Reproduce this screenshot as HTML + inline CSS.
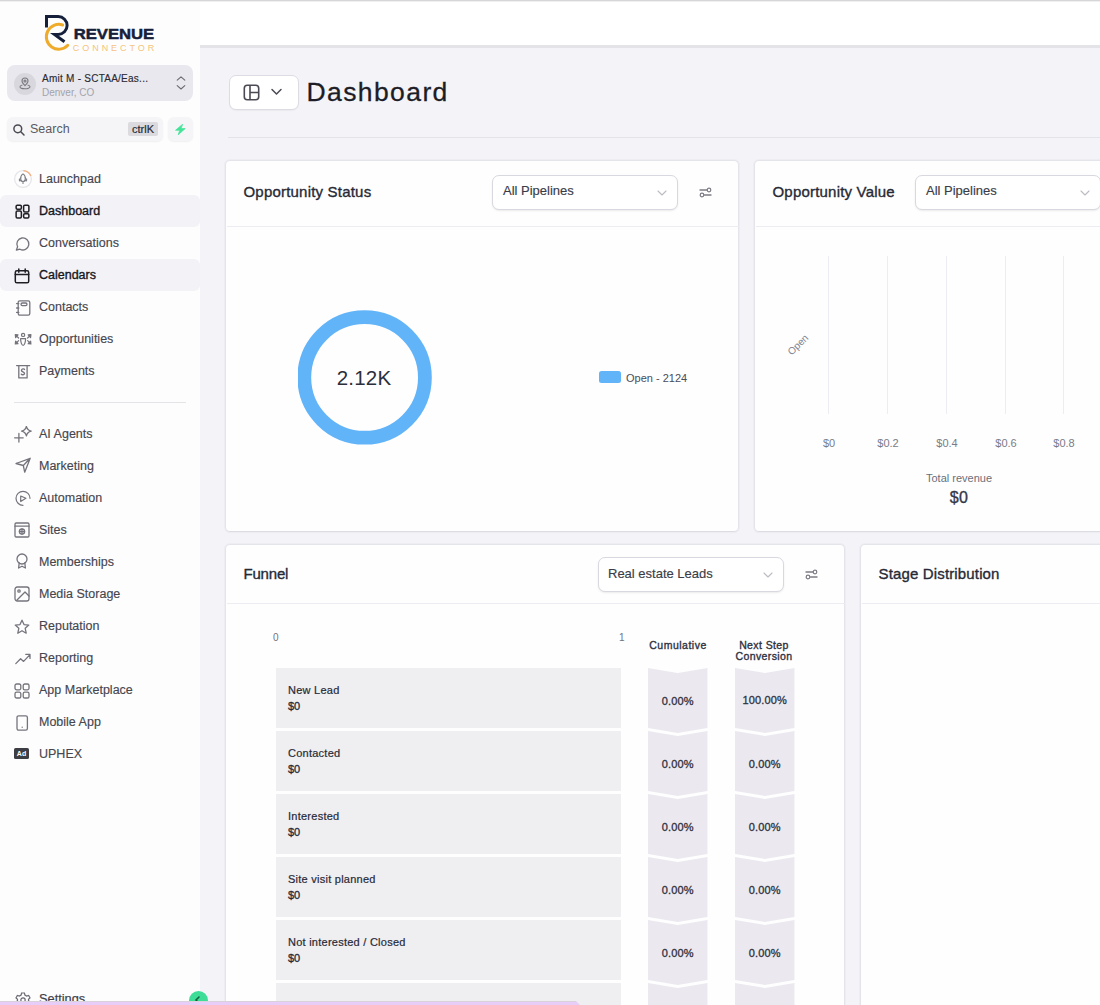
<!DOCTYPE html>
<html><head><meta charset="utf-8">
<style>
*{box-sizing:border-box;margin:0;padding:0}
html,body{width:1100px;height:1005px;overflow:hidden}
body{font-family:"Liberation Sans",sans-serif;background:#f3f3f8;position:relative;color:#1f2430}
.abs{position:absolute}
#topline{position:absolute;left:0;top:0;width:1100px;height:2px;background:linear-gradient(#c9c8cc,#fdfdfd);z-index:50}
#sidebar{position:absolute;left:0;top:0;width:200px;height:1005px;background:#fdfdfe}
#header{position:absolute;left:200px;top:0;width:900px;height:45px;background:#fff}
#headerline{position:absolute;left:200px;top:45px;width:900px;height:3px;background:#e4e3e8}
.nav{position:absolute;left:0;width:200px;height:32px}
.nav.active{background:#f2f2f7;border-radius:6px}
.nav .lbl{position:absolute;left:39px;top:10px;font-size:12.5px;color:#46464e;-webkit-text-stroke:0.15px #46464e;white-space:nowrap;line-height:14px}
.nav.active .lbl{color:#16161c;-webkit-text-stroke:0.35px #16161c}
.nav svg{position:absolute;left:14px;top:10px}
.card{position:absolute;background:#fefeff;border:1px solid #e4e4eb;border-bottom-color:#dcdce3;border-radius:5px;box-shadow:0 0 0 1px #ededf2,0 1px 1px rgba(0,0,0,0.05)}
.card .hd{position:absolute;left:0;top:0;right:0;height:65px;border-bottom:1px solid #ececf2}
.card .ttl{position:absolute;left:16.5px;top:22px;font-size:15px;color:#272a35;-webkit-text-stroke:0.35px #272a35;letter-spacing:0.2px;line-height:16px;white-space:nowrap}
.dd{position:absolute;height:35px;background:#fff;border:1px solid #d8d8e0;border-radius:7px;box-shadow:0 1px 2px rgba(0,0,0,0.08)}
.dd .t{position:absolute;left:10px;top:7px;font-size:13px;color:#3a3d48;-webkit-text-stroke:0.15px #3a3d48;line-height:15px;white-space:nowrap}
.dd svg{position:absolute;right:10.5px;top:14px}
.frow{width:345px;height:60px;background:#efeef1}
.frow .rn{position:absolute;left:12px;top:16px;font-size:11px;color:#272a36;-webkit-text-stroke:0.2px #272a36;letter-spacing:0.25px;line-height:13px;white-space:nowrap}
.frow .rv{position:absolute;left:12px;top:32px;font-size:11px;color:#272a36;-webkit-text-stroke:0.3px #272a36;line-height:13px}
.pct{width:59.5px;text-align:center;font-size:11px;color:#2e3140;-webkit-text-stroke:0.3px #2e3140;letter-spacing:0.15px;line-height:13px}
</style></head><body>
<div id="topline"></div>
<div id="sidebar">
<!-- logo -->
<svg class="abs" style="left:40px;top:10px" width="120" height="46" viewBox="0 0 120 46">
  <path d="M6.5 17.5 V6.6 H18.2 A8.9 8.9 0 0 1 18.2 24.4 H14.5 L24.5 31.8" fill="none" stroke="#16203a" stroke-width="3" stroke-linejoin="miter"/>
  <path d="M22.6 15 A12.4 12.4 0 1 0 27.8 35.3" fill="none" stroke="#eeab2c" stroke-width="3" stroke-linecap="round"/>
  <text x="33.7" y="28.7" font-family="Liberation Sans" font-weight="bold" font-size="15.5" fill="#16203a" stroke="#16203a" stroke-width="0.5" textLength="80.5" lengthAdjust="spacingAndGlyphs">REVENUE</text>
  <text x="32.8" y="40.7" font-family="Liberation Sans" font-size="9" fill="#f4c57c" textLength="81.5" lengthAdjust="spacing">CONNECTOR</text>
</svg>
<!-- account -->
<div class="abs" style="left:7px;top:65px;width:186px;height:36px;background:#e9e8ee;border-radius:8px"></div>
<div class="abs" style="left:14px;top:73px;width:22px;height:22px;border-radius:11px;background:#d8d7dd"></div>
<svg class="abs" style="left:19px;top:77px" width="12" height="13" viewBox="0 0 12 13" fill="none" stroke="#7a7a80" stroke-width="1.1"><path d="M6 8.6 C4 6.6 3 5.4 3 4 A3 3 0 0 1 9 4 C9 5.4 8 6.6 6 8.6 Z"/><circle cx="6" cy="4" r="1"/><path d="M3.4 8 C1.6 8.4 1 9.2 1 9.8 C1 11 3.2 11.8 6 11.8 C8.8 11.8 11 11 11 9.8 C11 9.2 10.4 8.4 8.6 8"/></svg>
<div class="abs" style="left:42px;top:73px;font-size:10px;color:#2a2a33;-webkit-text-stroke:0.15px #2a2a33;line-height:12px;white-space:nowrap;letter-spacing:0.25px">Amit M - SCTAA/Eas...</div>
<div class="abs" style="left:42px;top:87px;font-size:10px;color:#a3a3aa;line-height:12px;white-space:nowrap">Denver, CO</div>
<svg class="abs" style="left:176px;top:75px" width="10" height="16" viewBox="0 0 10 16" fill="none" stroke="#6a6a72" stroke-width="1.1" stroke-linecap="round" stroke-linejoin="round"><path d="M1.2 5.2 L5 1.8 L8.8 5.2 M1.2 10.6 L5 14 L8.8 10.6"/></svg>
<!-- search -->
<div class="abs" style="left:7px;top:117px;width:156px;height:24px;background:#f5f5f7;border-radius:6px;box-shadow:0 1px 2px rgba(0,0,0,0.06)"></div>
<svg class="abs" style="left:12px;top:123px" width="14" height="14" viewBox="0 0 14 14" fill="none" stroke="#4a4a52" stroke-width="1.5" stroke-linecap="round"><circle cx="5.8" cy="5.8" r="3.9"/><path d="M8.8 8.8 L12 12"/></svg>
<div class="abs" style="left:30px;top:122px;font-size:12.5px;color:#5a5a62;line-height:14px">Search</div>
<div class="abs" style="left:128px;top:122px;width:30px;height:14px;background:#dadadf;border-radius:2px;font-size:11px;color:#2a2a33;-webkit-text-stroke:0.2px #2a2a33;line-height:14px;text-align:center">ctrlK</div>
<div class="abs" style="left:168px;top:117px;width:25px;height:24px;background:#f5f5f7;border-radius:6px;box-shadow:0 1px 2px rgba(0,0,0,0.06)"></div>
<svg class="abs" style="left:175px;top:124px" width="11" height="11" viewBox="0 0 11 11"><path d="M7.6 0.3 L0.6 6.2 H4.8 L3.2 10.7 L10.2 4.6 H6 Z" fill="#45e39a" stroke="#45e39a" stroke-width="0.8" stroke-linejoin="round"/></svg>
<div class="nav" style="top:163px"><svg width="20" height="20" viewBox="0 0 20 20" fill="none" style="left:13px;top:6px"><circle cx="10" cy="10" r="8.4" stroke="#e6e6ea" stroke-width="1.3"/><path d="M10.4 1.6 A8.4 8.4 0 0 1 17.9 7.1" stroke="#f3b083" stroke-width="1.4"/><g stroke="#808088" stroke-width="1.15" stroke-linejoin="round" stroke-linecap="round"><path d="M10 4.9 C12 6 12.6 7.8 12.3 10.6 L11.2 12.4 H8.8 L7.7 10.6 C7.4 7.8 8 6 10 4.9 Z"/><path d="M7.8 8.8 L6.3 10.6 L6.6 12 L8.3 11.4 M12.2 8.8 L13.7 10.6 L13.4 12 L11.7 11.4 M10 13.4 V14.5"/></g></svg><div class="lbl" style="top:9px">Launchpad</div></div>
<div class="nav active" style="top:195px"><svg style="left:15px;top:8.5px" width="15" height="15" viewBox="0 0 16 16" fill="none" stroke="#1e1e24" stroke-width="1.6" stroke-linejoin="round"><rect x="1.2" y="1.2" width="5.6" height="4.4" rx="1.3"/><rect x="1.2" y="7.4" width="5.6" height="7.4" rx="1.3"/><rect x="9.2" y="1.2" width="5.6" height="7.4" rx="1.3"/><rect x="9.2" y="10.4" width="5.6" height="4.4" rx="1.3"/></svg><div class="lbl" style="top:9px">Dashboard</div></div>
<div class="nav" style="top:227px"><svg style="top:9px" width="16" height="16" viewBox="0 0 16 16" fill="none" stroke="#74747c" stroke-width="1.3" stroke-linecap="round" stroke-linejoin="round" ><path d="M2.4 14 L3.6 10.8 A6 6 0 1 1 6 13.2 Z"/></svg><div class="lbl" style="top:9px">Conversations</div></div>
<div class="nav active" style="top:259px"><svg style="top:9px" width="16" height="16" viewBox="0 0 16 16" fill="none" stroke="#1e1e24" stroke-width="1.3" stroke-linecap="round" stroke-linejoin="round" ><rect x="1.3" y="2.8" width="13.4" height="12" rx="1.6" stroke-width="1.5"/><path d="M1.3 6.6 H14.7 M4.8 1 V4.2 M11.2 1 V4.2" stroke-width="1.5"/></svg><div class="lbl" style="top:9px">Calendars</div></div>
<div class="nav" style="top:291px"><svg style="top:9px" width="18" height="16" viewBox="0 0 18 16" fill="none" stroke="#74747c" stroke-width="1.3" stroke-linecap="round" stroke-linejoin="round" ><rect x="4.2" y="0.8" width="11.6" height="14.4" rx="1.6"/><rect x="7" y="3" width="6" height="2.6" rx="1.3"/><path d="M2.6 3.6 H4.8 M2.6 8 H4.8 M2.6 12.4 H4.8"/></svg><div class="lbl" style="top:9px">Contacts</div></div>
<div class="nav" style="top:323px"><svg style="top:9px" width="18" height="16" viewBox="0 0 18 16" fill="none" stroke="#74747c" stroke-width="1.2" stroke-linecap="round" stroke-linejoin="round"><circle cx="9.1" cy="2.9" r="1.6"/><path d="M6.6 6.6 H11.6 C11.6 9.6 10.6 13.4 9.1 13.4 C7.6 13.4 6.6 9.6 6.6 6.6 Z"/><path d="M1.3 2.6 L4 2.9 L1.6 5.5 Z M16.9 2.6 L14.2 2.9 L16.6 5.5 Z M1.3 12 L4 11.7 L1.6 9.1 Z M16.9 12 L14.2 11.7 L16.6 9.1 Z" fill="#74747c"/><path d="M2.4 3.8 L4.6 6 M15.8 3.8 L13.6 6 M2.4 10.8 L4.6 8.6 M15.8 10.8 L13.6 8.6"/></svg><div class="lbl" style="top:9px">Opportunities</div></div>
<div class="nav" style="top:355px"><svg style="top:9px" width="18" height="16" viewBox="0 0 18 16" fill="none" stroke="#74747c" stroke-width="1.3" stroke-linecap="round" stroke-linejoin="round" ><path d="M2.6 1.6 H15.7 M4.8 1.6 V13.9 H13.1 V1.6"/><path d="M10.5 5.4 C10 4.6 7.5 4.6 7.5 6.4 C7.5 8 10.5 7.6 10.5 9.4 C10.5 11 7.8 11 7.3 10.2" stroke-width="1.4"/></svg><div class="lbl" style="top:9px">Payments</div></div>
<div class="nav" style="top:417px"><svg style="left:14px;top:8.5px" width="19" height="17" viewBox="0 0 19 17" fill="none" stroke="#74747c" stroke-width="1.3" stroke-linecap="round" stroke-linejoin="round"><path d="M0.6 11.8 H9.2 M4.9 7.5 V16.1"/><path d="M12.4 0.3 Q13.3 4.2 17.2 5.1 Q13.3 6 12.4 9.9 Q11.5 6 7.6 5.1 Q11.5 4.2 12.4 0.3 Z"/></svg><div class="lbl">AI Agents</div></div>
<div class="nav" style="top:449px"><svg style="left:14px;top:8px" width="18" height="17" viewBox="0 0 18 17" fill="none" stroke="#74747c" stroke-width="1.3" stroke-linecap="round" stroke-linejoin="round"><path d="M16.2 1.3 L2 6.5 L9.3 8.5 L10.7 15.2 Z M9.3 8.5 L16.2 1.3"/></svg><div class="lbl">Marketing</div></div>
<div class="nav" style="top:481px"><svg style="left:14px;top:8.5px" width="18" height="17" viewBox="0 0 18 17" fill="none" stroke="#74747c" stroke-width="1.2" stroke-linecap="round" stroke-linejoin="round"><path d="M16 8.3 A7 7 0 1 0 9 15.3"/><path d="M6.7 6 L11.9 8.3 L6.7 11.5 Z"/></svg><div class="lbl">Automation</div></div>
<div class="nav" style="top:513px"><svg style="top:9px" width="16" height="16" viewBox="0 0 16 16" fill="none" stroke="#74747c" stroke-width="1.3" stroke-linecap="round" stroke-linejoin="round" ><rect x="1" y="1" width="14" height="14" rx="1.2"/><path d="M1 4.2 H15"/><circle cx="8" cy="9.6" r="2.6"/><path d="M5.4 9.6 H10.6 M8 7 V12.2"/></svg><div class="lbl">Sites</div></div>
<div class="nav" style="top:545px"><svg style="top:8px" width="16" height="16" viewBox="0 0 16 16" fill="none" stroke="#74747c" stroke-width="1.3" stroke-linecap="round" stroke-linejoin="round" ><circle cx="8" cy="6" r="5"/><path d="M5.2 10 L4.6 15 L8 13.2 L11.4 15 L10.8 10"/></svg><div class="lbl">Memberships</div></div>
<div class="nav" style="top:577px"><svg style="top:9px" width="16" height="16" viewBox="0 0 16 16" fill="none" stroke="#74747c" stroke-width="1.3" stroke-linecap="round" stroke-linejoin="round" ><rect x="1" y="1" width="14" height="14" rx="2.2"/><circle cx="5" cy="5" r="1.2"/><path d="M3 14 L11 6 L15 10"/></svg><div class="lbl">Media Storage</div></div>
<div class="nav" style="top:609px"><svg width="16" height="16" viewBox="0 0 16 16" fill="none" stroke="#74747c" stroke-width="1.3" stroke-linecap="round" stroke-linejoin="round" ><path d="M8 1.2 L10 5.6 L14.8 6.1 L11.2 9.3 L12.2 14.2 L8 11.7 L3.8 14.2 L4.8 9.3 L1.2 6.1 L6 5.6 Z"/></svg><div class="lbl">Reputation</div></div>
<div class="nav" style="top:641px"><svg style="top:9px" width="18" height="16" viewBox="0 0 16 16" fill="none" stroke="#74747c" stroke-width="1.3" stroke-linecap="round" stroke-linejoin="round" ><path d="M0.8 13.6 L5.6 8.8 L8.6 11.4 L15 4.6 M10.8 4.4 H15 V8.4"/></svg><div class="lbl">Reporting</div></div>
<div class="nav" style="top:673px"><svg width="16" height="16" viewBox="0 0 16 16" fill="none" stroke="#74747c" stroke-width="1.3" stroke-linecap="round" stroke-linejoin="round" ><rect x="1" y="1" width="5.8" height="5.8" rx="1.6"/><rect x="9.2" y="1" width="5.8" height="5.8" rx="1.6"/><rect x="1" y="9.2" width="5.8" height="5.8" rx="1.6"/><rect x="9.2" y="9.2" width="5.8" height="5.8" rx="1.6"/></svg><div class="lbl">App Marketplace</div></div>
<div class="nav" style="top:705px"><svg style="top:9.5px" width="16" height="16" viewBox="0 0 16 16" fill="none" stroke="#74747c" stroke-width="1.3" stroke-linecap="round" stroke-linejoin="round" ><rect x="3" y="0.8" width="10.4" height="14.4" rx="1.6"/><path d="M8.2 12.2 V12.3"/></svg><div class="lbl">Mobile App</div></div>
<div class="nav" style="top:737px"><svg width="16" height="12" viewBox="0 0 16 12" style="left:14px;top:11px"><rect x="0" y="0" width="15" height="11" rx="1.6" fill="#3d3d44"/><text x="7.5" y="8.4" text-anchor="middle" font-family="Liberation Sans" font-weight="bold" font-size="7" fill="#fff">Ad</text></svg><div class="lbl">UPHEX</div></div>

<div class="abs" style="left:14px;top:402px;width:172px;height:1px;background:#e3e3e8"></div>
<!-- settings -->
<svg class="abs" style="left:15px;top:992px" width="16" height="16" viewBox="0 0 16 16" fill="none" stroke="#6a6a72" stroke-width="1.2"><path d="M6.6 1 H9.4 L9.9 3 L11.6 4 L13.6 3.4 L15 5.8 L13.5 7.3 V8.7 L15 10.2 L13.6 12.6 L11.6 12 L9.9 13 L9.4 15 H6.6 L6.1 13 L4.4 12 L2.4 12.6 L1 10.2 L2.5 8.7 V7.3 L1 5.8 L2.4 3.4 L4.4 4 L6.1 3 Z"/><circle cx="8" cy="8" r="2.2"/></svg>
<div class="abs" style="left:39px;top:992px;font-size:12.8px;color:#3f3f47;-webkit-text-stroke:0.2px #3f3f47;line-height:14px">Settings</div>
<div class="abs" style="left:189px;top:991px;width:19px;height:19px;border-radius:10px;background:#3ddc97"></div>
<svg class="abs" style="left:193px;top:995px" width="10" height="10" viewBox="0 0 10 10" fill="none" stroke="#16603e" stroke-width="1.6" stroke-linecap="round"><path d="M6 2 L3 5 L6 8"/></svg>
</div>
<div id="header"></div>
<div id="headerline"></div>

<!-- page header -->
<div class="abs" style="left:229px;top:75px;width:70px;height:35px;background:#fff;border:1px solid #dcdce4;border-radius:7px;box-shadow:0 1px 1px rgba(0,0,0,0.04)"></div>
<svg class="abs" style="left:243px;top:84px" width="17" height="17" viewBox="0 0 17 17" fill="none" stroke="#4a4a55" stroke-width="1.6" stroke-linejoin="round"><rect x="1.3" y="1.3" width="14.4" height="14.4" rx="3"/><path d="M7 1.3 V15.7 M7 8.5 H15.7"/></svg>
<svg class="abs" style="left:270px;top:87px" width="13" height="10" viewBox="0 0 13 10" fill="none" stroke="#4a4a55" stroke-width="1.5" stroke-linecap="round" stroke-linejoin="round"><path d="M2 2.5 L6.5 7 L11 2.5"/></svg>
<div class="abs" style="left:306.5px;top:75px;font-size:26.5px;color:#1c1d26;-webkit-text-stroke:0.3px #1c1d26;letter-spacing:1.4px;line-height:34px;white-space:nowrap">Dashboard</div>
<div class="abs" style="left:228px;top:137px;width:872px;height:1px;background:#e3e3ea"></div>

<!-- card 1 -->
<div class="card" style="left:225px;top:160px;width:514px;height:372px"><div class="abs" style="left:1px;top:1px;width:100%;height:100%">
  <div class="hd"></div>
  <div class="ttl">Opportunity Status</div>
  <div class="dd" style="left:265px;top:13px;width:186px"><div class="t">All Pipelines</div><svg width="10" height="6" viewBox="0 0 10 6" fill="none" stroke="#bcbcc4" stroke-width="1.1" stroke-linecap="round" stroke-linejoin="round"><path d="M1 1 L5 5 L9 1"/></svg></div>
  <svg class="abs" style="left:472px;top:25px" width="14" height="12" viewBox="0 0 14 12" fill="none" stroke="#7c7c84" stroke-width="1.2" stroke-linecap="round"><path d="M1 3 H8" stroke-width="1.4"/><circle cx="10" cy="3" r="1.8"/><path d="M5.5 8 H12" stroke-width="1.4"/><circle cx="3" cy="8" r="1.8"/></svg>
  <svg class="abs" style="left:71px;top:148px" width="136" height="136" viewBox="0 0 136 136"><circle cx="66.6" cy="67.4" r="60.3" fill="none" stroke="#62b4f9" stroke-width="13.8"/></svg>
  <div class="abs" style="left:87px;top:204px;width:100px;text-align:center;font-size:20.5px;color:#2c2f3a;line-height:24px;letter-spacing:0.2px">2.12K</div>
  <div class="abs" style="left:372px;top:209px;width:22px;height:12px;background:#62b4f9;border-radius:2.5px"></div>
  <div class="abs" style="left:399px;top:210px;font-size:11px;color:#4a4d58;line-height:13px;white-space:nowrap">Open - 2124</div>
</div></div>
<!-- card 2 -->
<div class="card" style="left:754px;top:160px;width:401px;height:372px"><div class="abs" style="left:1px;top:1px;width:100%;height:100%">
  <div class="hd"></div>
  <div class="ttl">Opportunity Value</div>
  <div class="dd" style="left:159px;top:13px;width:186px"><div class="t">All Pipelines</div><svg width="10" height="6" viewBox="0 0 10 6" fill="none" stroke="#bcbcc4" stroke-width="1.1" stroke-linecap="round" stroke-linejoin="round"><path d="M1 1 L5 5 L9 1"/></svg></div>
  <div class="abs" style="left:72px;top:94px;width:1px;height:158px;background:#ececf3"></div><div class="abs" style="left:131px;top:94px;width:1px;height:158px;background:#ececf3"></div><div class="abs" style="left:190px;top:94px;width:1px;height:158px;background:#ececf3"></div><div class="abs" style="left:249px;top:94px;width:1px;height:158px;background:#ececf3"></div><div class="abs" style="left:307px;top:94px;width:1px;height:158px;background:#ececf3"></div>
  <div class="abs" style="left:43px;top:275px;width:60px;text-align:center;font-size:11px;color:#797c87;line-height:13px">$0</div><div class="abs" style="left:102px;top:275px;width:60px;text-align:center;font-size:11px;color:#797c87;line-height:13px">$0.2</div><div class="abs" style="left:161px;top:275px;width:60px;text-align:center;font-size:11px;color:#797c87;line-height:13px">$0.4</div><div class="abs" style="left:220px;top:275px;width:60px;text-align:center;font-size:11px;color:#797c87;line-height:13px">$0.6</div><div class="abs" style="left:278px;top:275px;width:60px;text-align:center;font-size:11px;color:#797c87;line-height:13px">$0.8</div>
  <div class="abs" style="left:30px;top:177px;font-size:10px;color:#80838e;line-height:12px;transform:rotate(-45deg);transform-origin:center">Open</div>
  <div class="abs" style="left:153px;top:310px;width:100px;text-align:center;font-size:11px;color:#6b6e79;line-height:13px">Total revenue</div>
  <div class="abs" style="left:153px;top:326px;width:100px;text-align:center;font-size:16px;color:#333848;-webkit-text-stroke:0.35px #333848;letter-spacing:0.3px;line-height:19px">$0</div>
</div></div>
<!-- card 3 funnel -->
<div class="card" style="left:225px;top:544px;width:620px;height:501px"><div class="abs" style="left:1px;top:1px;width:100%;height:100%">
  <div class="hd" style="height:58px"></div>
  <div class="ttl" style="top:20px;letter-spacing:-0.2px">Funnel</div>
  <div class="dd" style="left:371px;top:11px;width:186px;height:35px"><div class="t" style="left:9px;top:8px">Real estate Leads</div><svg width="10" height="6" viewBox="0 0 10 6" fill="none" stroke="#bcbcc4" stroke-width="1.1" stroke-linecap="round" stroke-linejoin="round"><path d="M1 1 L5 5 L9 1"/></svg></div>
  <svg class="abs" style="left:578px;top:23px" width="14" height="12" viewBox="0 0 14 12" fill="none" stroke="#7c7c84" stroke-width="1.2" stroke-linecap="round"><path d="M1 3 H8" stroke-width="1.4"/><circle cx="10" cy="3" r="1.8"/><path d="M5.5 8 H12" stroke-width="1.4"/><circle cx="3" cy="8" r="1.8"/></svg>
  <svg class="abs" style="left:0;top:0" width="618" height="500"><polygon points="421,122 450.75,127 480.5,122 480.5,182 450.75,187 421,182" fill="#ebe9ef"/><polygon points="508,122 537.75,127 567.5,122 567.5,182 537.75,187 508,182" fill="#ebe9ef"/><polygon points="421,185 450.75,190 480.5,185 480.5,245 450.75,250 421,245" fill="#ebe9ef"/><polygon points="508,185 537.75,190 567.5,185 567.5,245 537.75,250 508,245" fill="#ebe9ef"/><polygon points="421,248 450.75,253 480.5,248 480.5,308 450.75,313 421,308" fill="#ebe9ef"/><polygon points="508,248 537.75,253 567.5,248 567.5,308 537.75,313 508,308" fill="#ebe9ef"/><polygon points="421,311 450.75,316 480.5,311 480.5,371 450.75,376 421,371" fill="#ebe9ef"/><polygon points="508,311 537.75,316 567.5,311 567.5,371 537.75,376 508,371" fill="#ebe9ef"/><polygon points="421,374 450.75,379 480.5,374 480.5,434 450.75,439 421,434" fill="#ebe9ef"/><polygon points="508,374 537.75,379 567.5,374 567.5,434 537.75,439 508,434" fill="#ebe9ef"/><polygon points="421,437 450.75,442 480.5,437 480.5,497 450.75,502 421,497" fill="#ebe9ef"/><polygon points="508,437 537.75,442 567.5,437 567.5,497 537.75,502 508,497" fill="#ebe9ef"/></svg>
  <div class="abs" style="left:46px;top:86px;font-size:10px;color:#70737d;line-height:12px">0</div>
  <div class="abs" style="left:392px;top:86px;font-size:10px;color:#70737d;line-height:12px">1</div>
  <div class="abs" style="left:421px;top:93px;width:60px;text-align:center;font-size:10.5px;color:#2e3140;-webkit-text-stroke:0.35px #2e3140;line-height:12px;letter-spacing:0.5px">Cumulative</div>
  <div class="abs" style="left:507px;top:94px;width:60px;text-align:center;font-size:10.5px;color:#2e3140;-webkit-text-stroke:0.35px #2e3140;line-height:11px;letter-spacing:0.4px">Next Step<br>Conversion</div>
  <div class="abs frow" style="left:49px;top:122px"><div class="rn">New Lead</div><div class="rv">$0</div></div>
  <div class="abs pct" style="left:421px;top:149px">0.00%</div>
  <div class="abs pct" style="left:508px;top:148px">100.00%</div>
  <div class="abs frow" style="left:49px;top:185px"><div class="rn">Contacted</div><div class="rv">$0</div></div>
  <div class="abs pct" style="left:421px;top:212px">0.00%</div>
  <div class="abs pct" style="left:508px;top:212px">0.00%</div>
  <div class="abs frow" style="left:49px;top:248px"><div class="rn">Interested</div><div class="rv">$0</div></div>
  <div class="abs pct" style="left:421px;top:275px">0.00%</div>
  <div class="abs pct" style="left:508px;top:275px">0.00%</div>
  <div class="abs frow" style="left:49px;top:311px"><div class="rn">Site visit planned</div><div class="rv">$0</div></div>
  <div class="abs pct" style="left:421px;top:338px">0.00%</div>
  <div class="abs pct" style="left:508px;top:338px">0.00%</div>
  <div class="abs frow" style="left:49px;top:374px"><div class="rn">Not interested / Closed</div><div class="rv">$0</div></div>
  <div class="abs pct" style="left:421px;top:401px">0.00%</div>
  <div class="abs pct" style="left:508px;top:401px">0.00%</div>
  <div class="abs frow" style="left:49px;top:437px"><div class="rn">Won</div><div class="rv">$0</div></div>
  <div class="abs pct" style="left:421px;top:464px">0.00%</div>
  <div class="abs pct" style="left:508px;top:464px">0.00%</div>
</div></div>
<!-- card 4 stage -->
<div class="card" style="left:860px;top:544px;width:301px;height:501px"><div class="abs" style="left:1px;top:1px;width:100%;height:100%">
  <div class="hd" style="height:58px"></div>
  <div class="ttl" style="top:20px;letter-spacing:0.15px">Stage Distribution</div>
</div></div>
<svg class="abs" style="left:0;top:1000px;z-index:60" width="600" height="5" viewBox="0 0 600 5"><polygon points="0,1 576,1 580,5 0,5" fill="#e8cdf8"/><path d="M0 1.5 H576" stroke="#d9d2dd" stroke-width="1"/></svg>
</body></html>
